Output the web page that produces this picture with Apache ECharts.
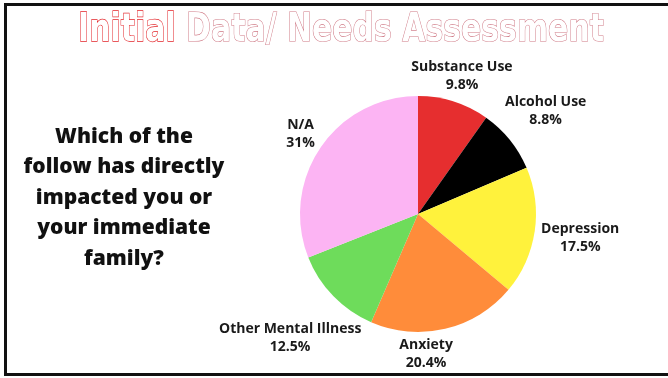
<!DOCTYPE html>
<html><head><meta charset="utf-8">
<script src="https://cdn.jsdelivr.net/npm/echarts@6/dist/echarts.min.js"></script>
<style>html,body{margin:0;padding:0;background:#fff}#c{width:668px;height:378px}</style>
</head><body><div id="c"></div>
<script>
const categories = ['Substance Use','Alcohol Use','Depression','Anxiety','Other Mental Illness','N/A'];
const values = [9.8, 8.8, 17.5, 20.4, 12.5, 31];
const valueLabels = ['9.8%','8.8%','17.5%','20.4%','12.5%','31%'];
const colors = ['#e62e2f','#000000','#fff23c','#ff8c3a','#6edc5b','#fcb4f3'];
const titleParts = ['Initial', ' Data/ Needs Assessment'];
const questionLines = ['Which of the','follow has directly','impacted you or','your immediate','family?'];

// layout (not data)
const CX = 418, CY = 214, R = 118;
const labelDist = [145, 164, 164, 140, 178, 142];
const labelShift = [0, 0, 0, 10, 0, 0];

const chart = echarts.init(document.getElementById('c'), null, {renderer:'canvas'});

// measure title
const cv = document.createElement('canvas').getContext('2d');
const TF = 'bold 36px "DejaVu Sans"';
cv.font = TF;
const w1 = cv.measureText(titleParts[0]).width;
const w2 = cv.measureText(titleParts[1]).width;
const targetW = 526, tx0 = 78;
const sx = targetW / (w1 + w2);
const sy = 1.1;

const total = values.reduce((a,b)=>a+b,0);
const mids = [];
let acc = 0;
values.forEach(v => { mids.push((acc + v/2) / total * 360); acc += v; });

chart.setOption({
  animation: false,
  graphic: [
    {type:'polyline', shape:{points:[[700,4.5],[5.5,4.5],[5.5,374.5],[700,374.5]]}, style:{stroke:'#111', lineWidth:3, fill:null}},
    {type:'text', x: tx0, y: 31, scaleX: sx, scaleY: sy, style:{text: titleParts[0], font: TF, fill:'#fff', stroke:'#e3262b', lineWidth:1.2, textVerticalAlign:'middle'}},
    {type:'text', x: tx0 + w1*sx, y: 31, scaleX: sx, scaleY: sy, style:{text: titleParts[1], font: TF, fill:'#fff', stroke:'#cf7a86', lineWidth:1.1, textVerticalAlign:'middle'}},
    {type:'text', x: 124, y: 198, style:{text: questionLines.join('\n'), font:'800 21px "Open Sans"', fill:'#111', textAlign:'center', textVerticalAlign:'middle', lineHeight:30.5}}
  ],
  series: [{
    type:'pie',
    center:[CX, CY],
    radius:[0, R],
    startAngle: 90,
    clockwise: true,
    data: categories.map((c,i)=>({name:c, value:values[i], itemStyle:{color:colors[i]}})),
    label: {
      show:true, position:'outside', overflow:'none', width: 300,
      formatter: p => p.name + '\n' + valueLabels[p.dataIndex],
      fontFamily:'"Open Sans"', fontWeight:'bold', fontSize:14, color:'#1a1a1a', lineHeight:18, align:'center'
    },
    labelLine: {show:false},
    labelLayout: function(p){
      const i = p.dataIndex;
      const a = (mids[i] + labelShift[i]) * Math.PI/180;
      return {x: CX + labelDist[i]*Math.sin(a), y: CY - labelDist[i]*Math.cos(a), align:'center', verticalAlign:'middle'};
    }
  }]
});
</script></body></html>
